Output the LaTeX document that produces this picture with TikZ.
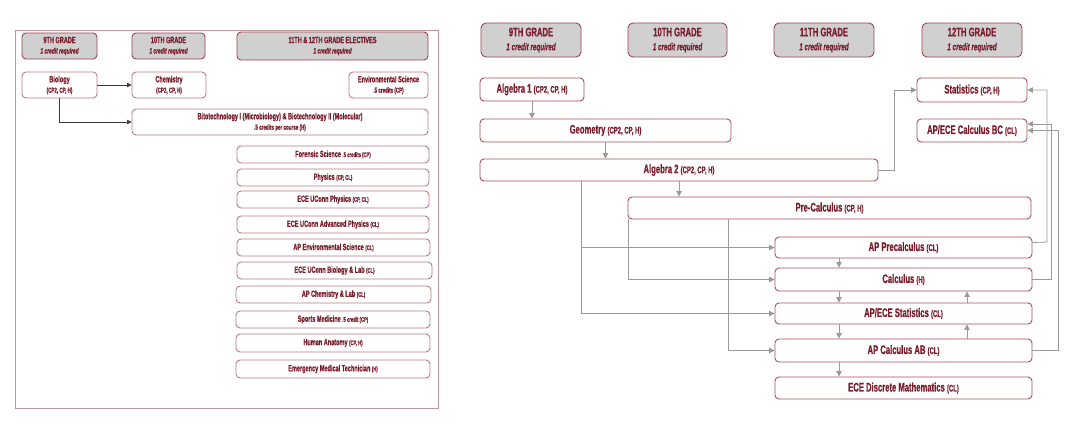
\documentclass[tikz,border=0pt]{standalone}
\usepackage{fontspec}
\setmainfont{Liberation Sans}[FakeStretch=0.62,FakeBold=0.6]
\usetikzlibrary{arrows.meta}
\definecolor{txt}{HTML}{7A1C2B}
\definecolor{bordR}{HTML}{A5505E}
\definecolor{bordL}{HTML}{B87A84}
\definecolor{hdrB}{HTML}{9A4452}
\definecolor{hdrF}{HTML}{D0D0D0}
\definecolor{frameC}{HTML}{C4949C}
\definecolor{lineG}{HTML}{9A9A9A}
\definecolor{lineD}{HTML}{3A3A3A}
\newcommand\fsz[2]{\fontsize{#1}{#2}\selectfont}
\tikzset{
 base/.style={draw=bordR, rounded corners=4bp, line width=0.9bp, inner sep=0pt, align=center, text=txt, fill=white},
 rbox/.style={base, font=\bfseries\fsz{12.4}{14}},
 rhdr/.style={base, draw=hdrB, fill=hdrF, rounded corners=5bp, font=\bfseries\fsz{12.4}{14}},
 lhdr/.style={base, draw=hdrB, fill=hdrF, rounded corners=4bp, font=\bfseries\fsz{9}{10.5}},
 lbox/.style={base, draw=bordL, font=\bfseries\fsz{9}{10.5}},
 arr/.style={draw=lineG, line width=0.8bp, -{Triangle[length=5.5bp,width=5.5bp]}},
 larr/.style={draw=lineD, line width=0.7bp, -{Triangle[length=4.5bp,width=4.5bp]}},
}
\newcommand\rsub[1]{{\fsz{9.6}{14}#1}}
\newcommand\lsub[1]{{\fsz{6.8}{10.5}#1}}
\begin{document}
\begin{tikzpicture}[x=1bp,y=-1bp]
\fill[white] (0,0) rectangle (1080,430);
\useasboundingbox (0,0) rectangle (1080,430);
% ---------- left panel ----------
\draw[frameC, line width=0.9bp] (15,30) rectangle (438,408);
\node[lhdr, minimum width=75bp, minimum height=26bp] (h9L) at (59.5,46) {9TH GRADE\\{\itshape\fsz{7.9}{9.5}1 credit required}};
\node[lhdr, minimum width=73bp, minimum height=26bp] (h10L) at (168.5,46) {10TH GRADE\\{\itshape\fsz{7.9}{9.5}1 credit required}};
\node[lhdr, minimum width=191bp, minimum height=28bp] (h1112L) at (332.5,46) {11TH \& 12TH GRADE ELECTIVES\\{\itshape\fsz{7.9}{9.5}1 credit required}};
\node[lbox, minimum width=75bp, minimum height=26bp] (bio) at (59.5,85) {Biology\\{\fsz{7.3}{10}(CP2, CP, H)}};
\node[lbox, minimum width=74bp, minimum height=26bp] (chem) at (169,85) {Chemistry\\{\fsz{7.3}{10}(CP2, CP, H)}};
\node[lbox, minimum width=79bp, minimum height=26bp] (env) at (388.5,85) {Environmental Science\\{\fsz{7.3}{10}.5 credits (CP)}};
\node[lbox, minimum width=296bp, minimum height=26bp] (biotech) at (280,122) {Bitotechnology I (Microbiology) \& Biotechnology II (Molecular)\\{\fsz{7.3}{10}.5 credits per course (H)}};
\node[lbox, minimum width=192bp, minimum height=17bp] (forensic) at (333,154.5) {Forensic Science \lsub{.5 credits (CP)}};
\node[lbox, minimum width=192bp, minimum height=17bp] (physics) at (333,177.5) {Physics \lsub{(CP, CL)}};
\node[lbox, minimum width=192bp, minimum height=17bp] (ecephys) at (333,199.5) {ECE UConn Physics \lsub{(CP, CL)}};
\node[lbox, minimum width=192bp, minimum height=17bp] (eceadv) at (333,224.5) {ECE UConn Advanced Physics \lsub{(CL)}};
\node[lbox, minimum width=193bp, minimum height=17bp] (apenv) at (333.5,247.5) {AP Environmental Science \lsub{(CL)}};
\node[lbox, minimum width=195bp, minimum height=17bp] (ecebio) at (334.5,270.5) {ECE UConn Biology \& Lab \lsub{(CL)}};
\node[lbox, minimum width=195bp, minimum height=17bp] (apchem) at (333.5,294.5) {AP Chemistry \& Lab \lsub{(CL)}};
\node[lbox, minimum width=194bp, minimum height=17bp] (sports) at (333,319.5) {Sports Medicine \lsub{.5 credit (CP)}};
\node[lbox, minimum width=194bp, minimum height=18bp] (anat) at (333,343) {Human Anatomy \lsub{(CP, H)}};
\node[lbox, minimum width=194bp, minimum height=18bp] (emt) at (333,369) {Emergency Medical Technician \lsub{(H)}};
\draw[larr] (bio.east) -- (chem.west);
\draw[larr] (bio.south) |- (biotech.west);
% ---------- right panel ----------
\node[rhdr, minimum width=100bp, minimum height=34bp] (h9) at (531,40) {9TH GRADE\\{\itshape\fsz{10.2}{12}1 credit required}};
\node[rhdr, minimum width=99bp, minimum height=34bp] (h10) at (677.5,40) {10TH GRADE\\{\itshape\fsz{10.2}{12}1 credit required}};
\node[rhdr, minimum width=100bp, minimum height=34bp] (h11) at (824,40) {11TH GRADE\\{\itshape\fsz{10.2}{12}1 credit required}};
\node[rhdr, minimum width=100bp, minimum height=34bp] (h12) at (972,40) {12TH GRADE\\{\itshape\fsz{10.2}{12}1 credit required}};
\node[rbox, minimum width=104bp, minimum height=23bp] (alg1) at (532,89.5) {Algebra 1 \rsub{(CP2, CP, H)}};
\node[rbox, minimum width=251bp, minimum height=23bp] (geom) at (605.5,130.5) {Geometry \rsub{(CP2, CP, H)}};
\node[rbox, minimum width=398bp, minimum height=22bp] (alg2) at (679,170) {Algebra 2 \rsub{(CP2, CP, H)}};
\node[rbox, minimum width=110bp, minimum height=24bp] (stats) at (972,90) {Statistics \rsub{(CP, H)}};
\node[rbox, minimum width=110bp, minimum height=23bp] (bc) at (972,130.5) {AP/ECE Calculus BC \rsub{(CL)}};
\node[rbox, minimum width=403bp, minimum height=22bp] (precalc) at (829.5,208) {Pre-Calculus \rsub{(CP, H)}};
\node[rbox, minimum width=257bp, minimum height=21bp] (appre) at (903.5,247.5) {AP Precalculus \rsub{(CL)}};
\node[rbox, minimum width=257bp, minimum height=23bp] (calc) at (903.5,279.5) {Calculus \rsub{(H)}};
\node[rbox, minimum width=257bp, minimum height=21bp] (apstats) at (903.5,313.5) {AP/ECE Statistics \rsub{(CL)}};
\node[rbox, minimum width=257bp, minimum height=23bp] (ab) at (903.5,350.5) {AP Calculus AB \rsub{(CL)}};
\node[rbox, minimum width=257bp, minimum height=22bp] (disc) at (903.5,388) {ECE Discrete Mathematics \rsub{(CL)}};
% main chain
\draw[arr] (alg1.south) -- (geom.north -| alg1.south);
\draw[arr] (geom.south) -- (alg2.north -| geom.south);
\draw[arr] (alg2.south) -- (precalc.north -| alg2.south);
\draw[arr] (alg2.east) -- ++(16,0) |- (stats.west);
% algebra 2 branches
\draw[arr] ([xshift=-98bp]alg2.south) |- (apstats.west);
\draw[arr] ([xshift=-98bp]alg2.south |- appre.west) -- (appre.west);
% pre-calculus branches
\draw[arr] ([xshift=0.5bp]precalc.south west) |- (calc.west);
\draw[arr] ([xshift=-101bp]precalc.south) |- (ab.west);
% vertical chain
\draw[arr] ([xshift=-64.5bp]appre.south) -- ([xshift=-64.5bp]calc.north);
\draw[arr] ([xshift=-64.5bp]calc.south) -- ([xshift=-64.5bp]apstats.north);
\draw[arr] ([xshift=-64.5bp]apstats.south) -- ([xshift=-64.5bp]ab.north);
\draw[arr] ([xshift=-64.5bp]ab.south) -- ([xshift=-64.5bp]disc.north);
\draw[arr] ([xshift=63.5bp]apstats.north) -- ([xshift=63.5bp]calc.south);
\draw[arr] ([xshift=63.5bp]ab.north) -- ([xshift=63.5bp]apstats.south);
% right-side returns
\draw[arr] ([yshift=5bp]appre.east) -- (1047,242) |- (stats.east);
\draw[arr] (calc.east) -- (1051,279.5) |- ([yshift=6.5bp]bc.east);
\draw[arr] (ab.east) -- (1058,350.5) |- (bc.east);
\end{tikzpicture}
\end{document}
